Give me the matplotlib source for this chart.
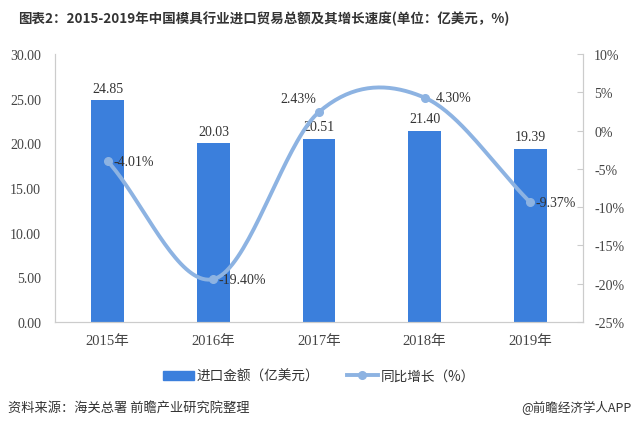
import numpy as np
import matplotlib
matplotlib.use("Agg")
from matplotlib import pyplot as plt
from matplotlib import lines as mlines, patches as mpatches

plt.rcParams['font.family'] = ['Noto Sans CJK SC', 'DejaVu Sans']

years = ['2015年', '2016年', '2017年', '2018年', '2019年']
import_value = [24.85, 20.03, 20.51, 21.40, 19.39]
growth = [-4.01, -19.40, 2.43, 4.30, -9.37]
left_ticks = [0, 5, 10, 15, 20, 25, 30]
right_ticks = [-25, -20, -15, -10, -5, 0, 5, 10]

BAR = '#3b7fdc'
LINE = '#8db3e2'
SERIF = ['Liberation Serif', 'Noto Sans CJK SC']


def smooth(xs, ys, n=40):
    # catmull-rom style curve through the points (like the echarts smooth line)
    xs = np.asarray(xs, float)
    ys = np.asarray(ys, float)
    m = np.zeros(len(ys))
    m[1:-1] = (ys[2:] - ys[:-2]) / 2
    m[0] = ys[1] - ys[0]
    m[-1] = ys[-1] - ys[-2]
    outx, outy = [], []
    for i in range(len(ys) - 1):
        t = np.linspace(0, 1, n)
        h00 = 2 * t**3 - 3 * t**2 + 1
        h10 = t**3 - 2 * t**2 + t
        h01 = -2 * t**3 + 3 * t**2
        h11 = t**3 - t**2
        outx.extend(xs[i] + t * (xs[i + 1] - xs[i]))
        outy.extend(h00 * ys[i] + h10 * m[i] + h01 * ys[i + 1] + h11 * m[i + 1])
    return outx, outy


fig = plt.figure(figsize=(6.35, 4.27), dpi=100)
ax = fig.add_axes([0.0866, 0.2436, 0.8315, 0.6276])
ax2 = ax.twinx()

x = np.arange(len(years))
ax.bar(x, import_value, width=0.31, color=BAR, zorder=2)
for xi, v in zip(x, import_value):
    ax.text(xi, v + 0.6, '%.2f' % v, ha='center', va='bottom', fontsize=10,
            color='#333333', family=SERIF)

ax.set_xlim(-0.5, len(years) - 0.5)
ax.set_ylim(0, 30)
ax.set_yticks(left_ticks)
ax.set_yticklabels(['%.2f' % t for t in left_ticks], family=SERIF, fontsize=10, color='#444444')
ax.set_xticks(x)
ax.set_xticklabels(years, family=SERIF, fontsize=10.5, color='#444444')
ax.tick_params(axis='y', length=0, pad=10)
ax.tick_params(axis='x', length=0, pad=9)

sx, sy = smooth(x, growth)
ax2.plot(sx, sy, color=LINE, lw=2.8, zorder=3, solid_capstyle='round')
ax2.plot(x, growth, 'o', color=LINE, ms=5.5, zorder=4)
offsets = [(4, 0, 'left', 'center'), (4, 0, 'left', 'center'), (-2, 5, 'right', 'bottom'),
           (8, 0, 'left', 'center'), (4, 0, 'left', 'center')]
for xi, g, (dx, dy, ha, va) in zip(x, growth, offsets):
    ax2.annotate('%.2f%%' % g, (xi, g), xytext=(dx, dy), textcoords='offset points',
                 ha=ha, va=va, fontsize=10, color='#333333', family=SERIF, zorder=5)
ax2.set_ylim(-25, 10)
ax2.set_yticks(right_ticks)
ax2.set_yticklabels(['%d%%' % t for t in right_ticks], family=SERIF, fontsize=10, color='#444444')
ax2.tick_params(axis='y', direction='in', length=4, color='#cccccc', pad=8)

for a in (ax, ax2):
    a.spines['top'].set_visible(False)
    a.spines['left'].set_color('#cccccc')
    a.spines['right'].set_color('#cccccc')
    a.spines['bottom'].set_color('#cccccc')

barPatch = mpatches.Patch(color=BAR, label='进口金额（亿美元）')
lineHandle = mlines.Line2D([], [], color=LINE, lw=2.8, marker='o', ms=5.5, label='同比增长（%）')
fig.legend(handles=[barPatch, lineHandle], loc='center', bbox_to_anchor=(0.502, 0.117),
           ncol=2, frameon=False, fontsize=9.8, handlelength=2.3, handleheight=0.6,
           handletextpad=0.2, columnspacing=2.0, labelcolor='#333333')

fig.text(0.028, 0.955, '图表2：2015-2019年中国模具行业进口贸易总额及其增长速度(单位：亿美元，%)',
         fontsize=9.7, fontweight='bold', color='#333333', ha='left', va='center')
fig.text(0.012, 0.045, '资料来源：海关总署 前瞻产业研究院整理', fontsize=9.5, color='#333333',
         ha='left', va='center')
fig.text(0.994, 0.045, '@前瞻经济学人APP', fontsize=9, color='#333333', ha='right', va='center')

fig.savefig('out.png', dpi=100)
